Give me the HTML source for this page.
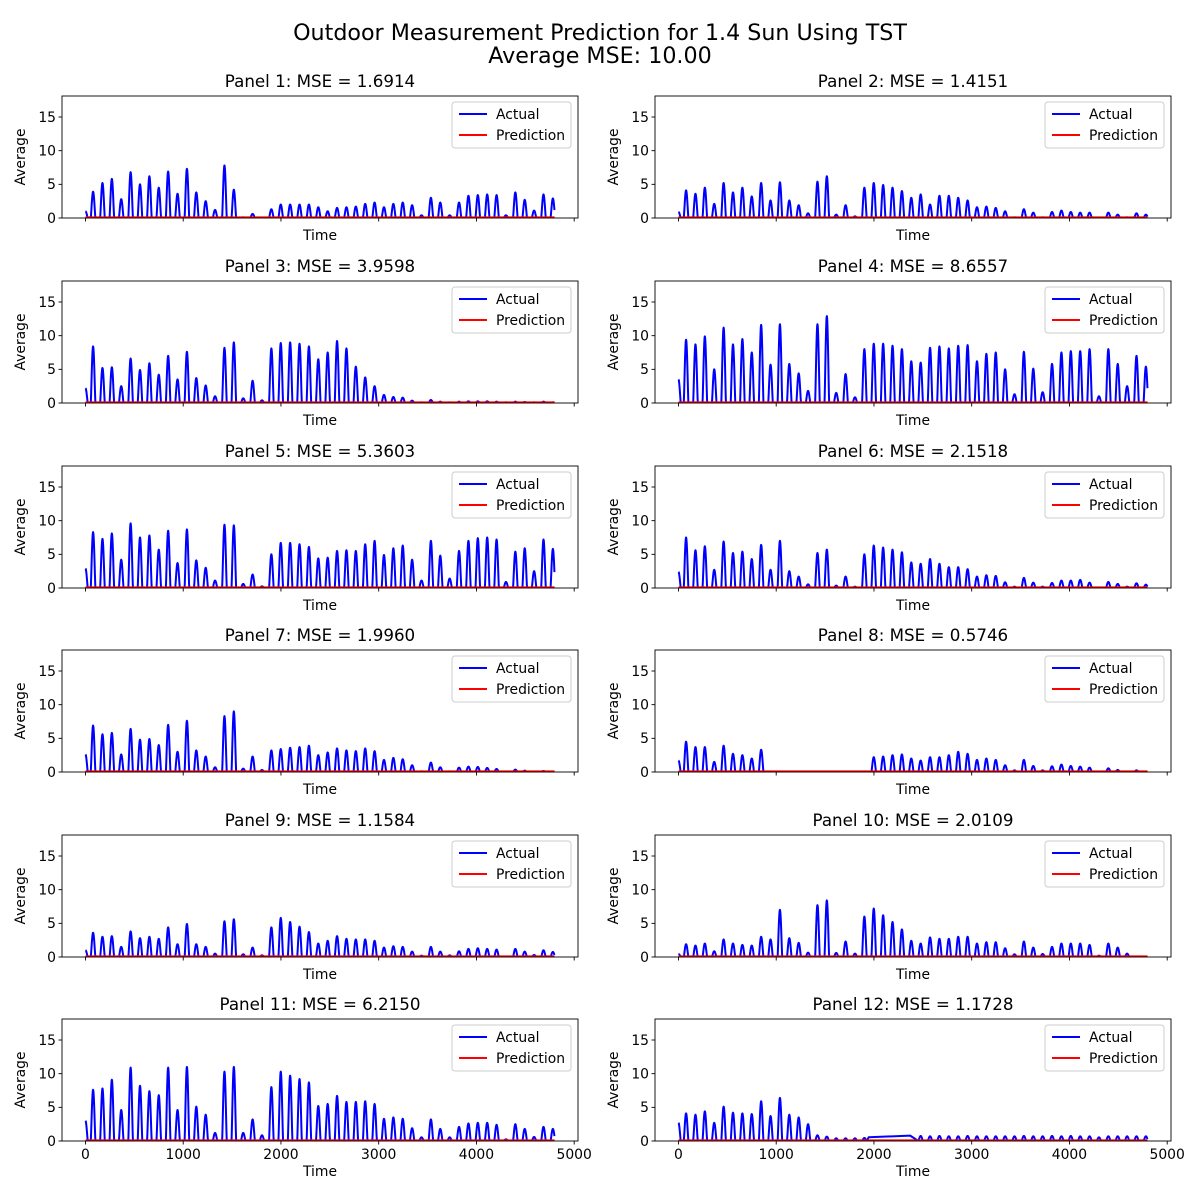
<!DOCTYPE html>
<html><head><meta charset="utf-8"><style>
html,body{margin:0;padding:0;background:#fff;}
svg{display:block;font-family:"DejaVu Sans","Liberation Sans",sans-serif;}
</style></head><body>
<svg id="fig" width="1200" height="1200" viewBox="0 0 1200 1200" xmlns="http://www.w3.org/2000/svg">
<rect width="1200" height="1200" fill="#fff"/>
<text x="600" y="40" font-size="22.2" text-anchor="middle" fill="#000">Outdoor Measurement Prediction for 1.4 Sun Using TST</text>
<text x="600" y="63" font-size="22.2" text-anchor="middle" fill="#000">Average MSE: 10.00</text>
</svg>
<script>
const mseValues=["1.6914","1.4151","3.9598","8.6557","5.3603","2.1518","1.9960","0.5746","1.1584","2.0109","6.2150","1.1728"];
const xTicks=[0,1000,2000,3000,4000,5000];
const yTicks=[0,5,10,15];
const predLevel=[0.1,0.1,0.1,0.1,0.1,0.1,0.1,0.1,0.1,0.1,0.1,0.1];
const p1=[1.0,3.9,5.2,5.8,2.8,6.8,5.0,6.2,4.5,6.9,3.6,7.3,3.8,2.5,1.2,7.8,4.2,0.1,0.6,0,1.3,2.0,2.0,2.0,2.0,1.6,1.0,1.5,1.6,1.7,2.1,2.3,1.6,2.1,2.3,1.9,0.4,3.0,2.3,0.4,2.3,3.3,3.4,3.5,3.4,0.4,3.8,2.7,1.1,3.5,2.9];
const p2=[0.9,4.1,3.6,4.5,2.1,5.2,3.8,4.5,3.2,5.2,2.6,5.3,2.6,1.9,0.7,5.4,6.2,0.5,1.9,0.25,4.5,5.2,4.9,4.5,4.0,3.0,3.5,2.0,3.3,3.3,3.0,2.6,1.6,1.7,1.5,1.0,0.1,1.3,0.8,0.1,0.9,1.1,0.9,0.8,0.8,0,0.8,0.5,0.1,0.7,0.5];
const p3=[2.2,8.4,5.2,5.3,2.5,6.6,4.9,5.9,4.2,7.0,3.5,7.6,3.7,2.6,1.0,8.2,9.0,0.7,3.3,0.4,8.1,8.9,9.0,8.8,8.4,6.5,7.5,9.2,8.1,5.4,3.8,2.5,1.2,0.9,0.8,0.35,0.1,0.45,0.2,0.1,0.2,0.25,0.25,0.25,0.2,0.1,0.2,0.15,0.1,0.2,0.1];
const p4=[3.5,9.4,8.7,9.9,5.0,11.2,8.7,9.5,7.5,11.6,5.7,11.7,5.8,4.4,1.8,11.7,12.9,1.5,4.3,0.85,8.0,8.8,8.8,8.5,8.0,6.2,6.0,8.2,8.4,8.1,8.5,8.6,6.2,7.3,7.5,5.0,1.3,7.6,5.1,1.6,5.8,7.5,7.7,7.7,8.0,1.0,8.0,5.8,2.5,7.0,5.4];
const p5=[2.9,8.3,7.3,8.1,4.2,9.6,7.5,7.8,5.7,8.5,3.7,8.7,4.1,3.0,1.1,9.4,9.3,0.6,2.0,0.25,5.0,6.7,6.7,6.5,6.1,4.4,4.5,5.5,5.6,5.5,6.5,7.0,4.9,5.9,6.3,4.2,1.1,7.0,4.8,1.4,5.5,7.0,7.4,7.5,7.2,0.9,5.4,5.9,2.5,7.2,5.8];
const p6=[2.4,7.5,5.6,6.2,2.7,6.9,5.2,5.4,4.3,6.4,2.7,7.0,2.5,1.7,0.55,5.2,5.7,0.35,1.7,0.2,5.0,6.3,6.0,5.7,5.3,3.8,3.6,4.3,3.6,3.1,3.1,2.8,1.7,1.9,1.8,0.85,0.2,1.5,0.8,0.2,0.75,1.1,1.1,1.2,0.8,0,0.9,0.6,0.2,0.7,0.5];
const p7=[2.6,6.9,5.6,5.8,2.6,6.4,4.8,4.9,4.0,7.0,3.0,7.6,3.2,2.3,0.7,8.3,9.0,0.5,2.3,0.3,3.2,3.4,3.6,3.7,3.9,2.5,2.9,3.5,3.2,3.1,3.5,3.1,1.8,2.1,1.9,1.0,0.1,1.4,0.7,0.1,0.65,0.8,0.75,0.6,0.45,0,0.35,0.2,0,0.15,0];
const p8=[1.7,4.5,3.7,3.7,1.5,3.9,2.7,2.5,2.0,3.3,0,0,0,0,0,0,0,0,0,0,0,2.2,2.3,2.5,2.6,2.0,1.7,2.2,2.2,2.5,3.0,2.7,1.8,2.0,1.8,1.0,0.25,1.8,0.9,0.25,0.85,1.1,0.9,0.8,0.65,0,0.55,0.3,0,0.25,0];
const p9=[1.0,3.6,3.0,3.1,1.5,3.8,2.8,3.0,2.7,4.4,1.9,4.9,1.9,1.5,0.5,5.3,5.6,0.4,1.4,0.25,4.4,5.8,5.2,4.5,3.7,2.0,2.4,3.1,2.7,2.6,2.6,2.4,1.4,1.6,1.5,0.8,0.2,1.5,0.8,0.25,0.85,1.2,1.3,1.2,1.1,0,1.2,0.8,0.3,1.0,0.75];
const p10=[0.45,1.9,1.7,2.0,0.85,2.6,2.0,1.8,1.7,3.0,2.6,7.0,2.8,2.1,0.65,7.7,8.4,0.6,2.3,0.5,6.0,7.2,6.2,5.2,4.1,2.4,2.0,2.9,2.7,2.7,3.0,3.0,2.0,2.2,2.2,1.3,0.4,2.3,1.4,0.45,1.5,2.0,2.0,2.0,1.8,0.2,2.0,1.4,0.5,0,0];
const p11=[3.0,7.6,7.8,9.1,4.6,10.9,8.2,7.4,6.8,10.9,4.6,11.0,5.1,3.9,1.2,10.3,11.0,1.2,3.2,0.85,8.0,10.3,9.7,9.2,8.7,5.2,5.5,6.7,5.8,5.8,5.9,5.5,3.3,3.5,3.3,1.9,0.55,3.2,1.8,0.55,2.1,2.6,2.7,2.7,2.4,0.25,2.5,1.8,0.6,2.1,1.8];
const p12=[2.7,4.1,3.9,4.4,2.7,5.1,4.2,4.1,4.0,5.9,3.7,6.4,3.9,3.5,2.5,0.85,0.65,0.4,0.4,0.4,0.45,null,null,null,null,null,0.75,0.7,0.75,0.7,0.7,0.75,0.7,0.7,0.7,0.7,0.7,0.75,0.7,0.7,0.75,0.7,0.75,0.7,0.7,0.55,0.7,0.7,0.7,0.7,0.7];
const gapTimes12=[1946,2371];
const gapValues12=[0.55,0.8];
const peaks=[p1,p2,p3,p4,p5,p6,p7,p8,p9,p10,p11,p12];

const NS="http://www.w3.org/2000/svg";
const svg=document.getElementById('fig');
function mk(tag,attrs,parent){const e=document.createElementNS(NS,tag);for(const k in attrs)e.setAttribute(k,attrs[k]);(parent||svg).appendChild(e);return e;}
const colX=[62,655], rowY=[96,281,466,650,835,1019], AW=516, AH=122;
const X0=-240,X1=5039,Y0=0,Y1=18.12;
const T_END=4799, HW=24;

for(let i=0;i<12;i++){
  const L=colX[i%2], T=rowY[Math.floor(i/2)], B=T+AH, R=L+AW;
  const xs=t=>L+(t-X0)/(X1-X0)*AW;
  const ys=v=>B-(v-Y0)/(Y1-Y0)*AH;
  const g=mk('g',{});
  
  
  const ttl=mk('text',{x:(L+R)/2,y:T-9,'font-size':16.7,'text-anchor':'middle',fill:'#000'},g);
  ttl.textContent='Panel '+(i+1)+': MSE = '+mseValues[i];
  
  
  const data=peaks[i];
  const gap=(i===11)?gapTimes12:null;
  const pts=[];
  for(let k=0;k<data.length;k++){
    const v=data[k]; if(v===null) continue;
    const c=k===0?0:78+96*(k-1);
    for(let j=-12;j<=12;j++){
      const t=c+j*HW/12;
      if(t<0||t>T_END) continue;
      if(gap&&t>gap[0]&&t<gap[1]) continue;
      const val=v*Math.pow(Math.cos(Math.PI/2*(t-c)/HW),1.3);
      pts.push([t,val]);
    }
  }
  if(gap){pts.push([gap[0],gapValues12[0]]);pts.push([gap[1],gapValues12[1]]);pts.sort((a,b)=>a[0]-b[0]);}
  const d=pts.map((p,n)=>(n?'L':'M')+xs(p[0]).toFixed(2)+' '+ys(p[1]).toFixed(2)).join('');
  const cp=mk('clipPath',{id:'c'+i},g); mk('rect',{x:L,y:T,width:AW,height:AH},cp);
  const line=mk('path',{d:d,fill:'none',stroke:'#0000ff','stroke-width':2,'stroke-linejoin':'round','clip-path':'url(#c'+i+')'},g);
  
  
  const pl=mk('line',{x1:xs(0),x2:xs(T_END),y1:ys(predLevel[i]),y2:ys(predLevel[i]),stroke:'#ff0000','stroke-width':2},g);
  
  
  mk('rect',{x:L,y:T,width:AW,height:AH,fill:'none',stroke:'#000','stroke-width':0.9},g);
  yTicks.forEach(v=>{
    const y=ys(v);
    mk('line',{x1:L-3.5,x2:L,y1:y,y2:y,stroke:'#000','stroke-width':0.9},g);
    const tx=mk('text',{x:L-6,y:y+4.8,'font-size':13.9,'text-anchor':'end',fill:'#000'},g);
    tx.textContent=v;
    
    
  });
  xTicks.forEach(v=>{
    const x=xs(v);
    mk('line',{x1:x,x2:x,y1:B,y2:B+3.5,stroke:'#000','stroke-width':0.9},g);
    if(i>=10){
      const tx=mk('text',{x:x,y:B+18,'font-size':13.9,'text-anchor':'middle',fill:'#000'},g);
      tx.textContent=v;
      
      
    }
  });
  const xl=mk('text',{x:(L+R)/2,y:i>=10?B+35:B+22,'font-size':13.9,'text-anchor':'middle',fill:'#000'},g);
  xl.textContent='Time';
  
  
  const yl=mk('text',{x:0,y:0,'font-size':13.9,'text-anchor':'middle',fill:'#000',transform:'translate('+(L-37)+','+(T+AH/2)+') rotate(-90)'},g);
  yl.textContent='Average';
  
  
  const lx=R-126, ly=T+6;
  const lg=mk('g',{},g);
  
  
  mk('rect',{x:lx,y:ly,width:119,height:46,rx:3,fill:'#fff','fill-opacity':0.8,stroke:'#cccccc','stroke-width':1},lg);
  mk('line',{x1:lx+7,x2:lx+35,y1:ly+12,y2:ly+12,stroke:'#0000ff','stroke-width':2},lg);
  const t1=mk('text',{x:lx+44,y:ly+17,'font-size':13.9,fill:'#000'},lg); t1.textContent='Actual';
  
  
  mk('line',{x1:lx+7,x2:lx+35,y1:ly+33,y2:ly+33,stroke:'#ff0000','stroke-width':2},lg);
  const t2=mk('text',{x:lx+44,y:ly+38,'font-size':13.9,fill:'#000'},lg); t2.textContent='Prediction';
  
  
}
</script>
</body></html>
